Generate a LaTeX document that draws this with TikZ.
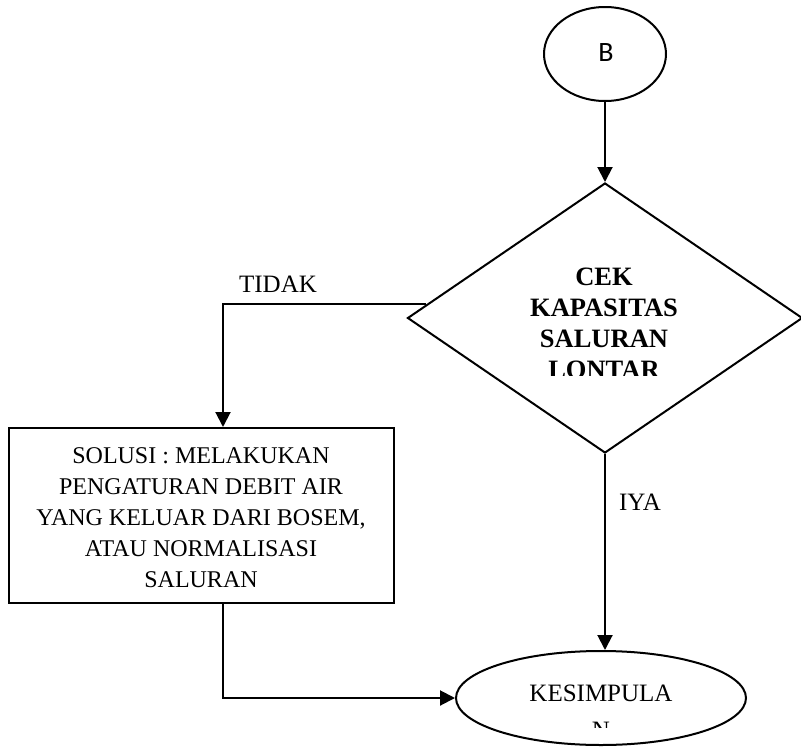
\documentclass[tikz,border=0pt]{standalone}
\usepackage{fontspec}
\newfontfamily\tnr{Liberation Serif}
\newfontfamily\calfont{Carlito}
\usetikzlibrary{shapes.geometric,arrows.meta,calc}
\begin{document}
\begin{tikzpicture}[x=1pt,y=-1pt,
  line width=2pt,
  arr/.style={-{Triangle[length=15pt,width=15pt]}},
  shp/.style={draw,inner sep=0pt},
  txt/.style={anchor=base,inner sep=0pt,font=\tnr\fontsize{24}{31}\selectfont},
  ltxt/.style={anchor=base,inner sep=0pt,font=\tnr\fontsize{25}{31}\selectfont},
  btxt/.style={anchor=base,inner sep=0pt,font=\tnr\bfseries\fontsize{26.5}{31}\selectfont}]
\useasboundingbox (0,0) rectangle (801,747);
\fill[white] (0,0) rectangle (801,747);
% shapes
\node[shp,ellipse,minimum width=122pt,minimum height=94pt] (B) at (605,54) {};
\node[anchor=base,inner sep=0pt,font=\calfont\fontsize{28}{30}\selectfont] (Bt) at (606,61) {B};
\node[shp,diamond,minimum width=395pt,minimum height=270pt] (D) at (605,318) {};
\node[shp,rectangle,minimum width=385pt,minimum height=175pt] (S) at (201.5,515.5) {};
\node[shp,ellipse,minimum width=290pt,minimum height=94pt] (K) at (601,698) {};
% diamond text (bottom line clipped as in the original)
\begin{scope}
\clip (480,250) rectangle (730,375);
\node[btxt] (d1) at (604,285) {CEK};
\node[btxt] (d2) at (604,316) {KAPASITAS};
\node[btxt] (d3) at (604,347) {SALURAN};
\node[btxt] (d4) at (604,378) {LONTAR};
\end{scope}
% box text
\node[txt] (s1) at (201,463) {SOLUSI : MELAKUKAN};
\node[txt] (s2) at (201,494) {PENGATURAN DEBIT AIR};
\node[txt] (s3) at (201,525) {YANG KELUAR DARI BOSEM,};
\node[txt] (s4) at (201,556) {ATAU NORMALISASI};
\node[txt] (s5) at (201,587) {SALURAN};
% ellipse text
\begin{scope}
\clip (480,660) rectangle (720,727);
\node[ltxt] (k1) at (601,701) {KESIMPULA};
\node[ltxt] (k2) at (601,738) {N};
\end{scope}
% labels
\node[ltxt] (tidak) at (278,292) {TIDAK};
\node[ltxt] (iya) at (640,510) {IYA};
% connectors
\draw[arr] (B.south) -- (D.north);
\draw[arr] ($(D.west)!0.1!(D.north)$) -| ([xshift=21.5pt]S.north);
\draw[arr] (D.south) -- (D.south |- K.north);
\draw[arr] ([xshift=21pt]S.south) |- (K.west);
\end{tikzpicture}
\end{document}
